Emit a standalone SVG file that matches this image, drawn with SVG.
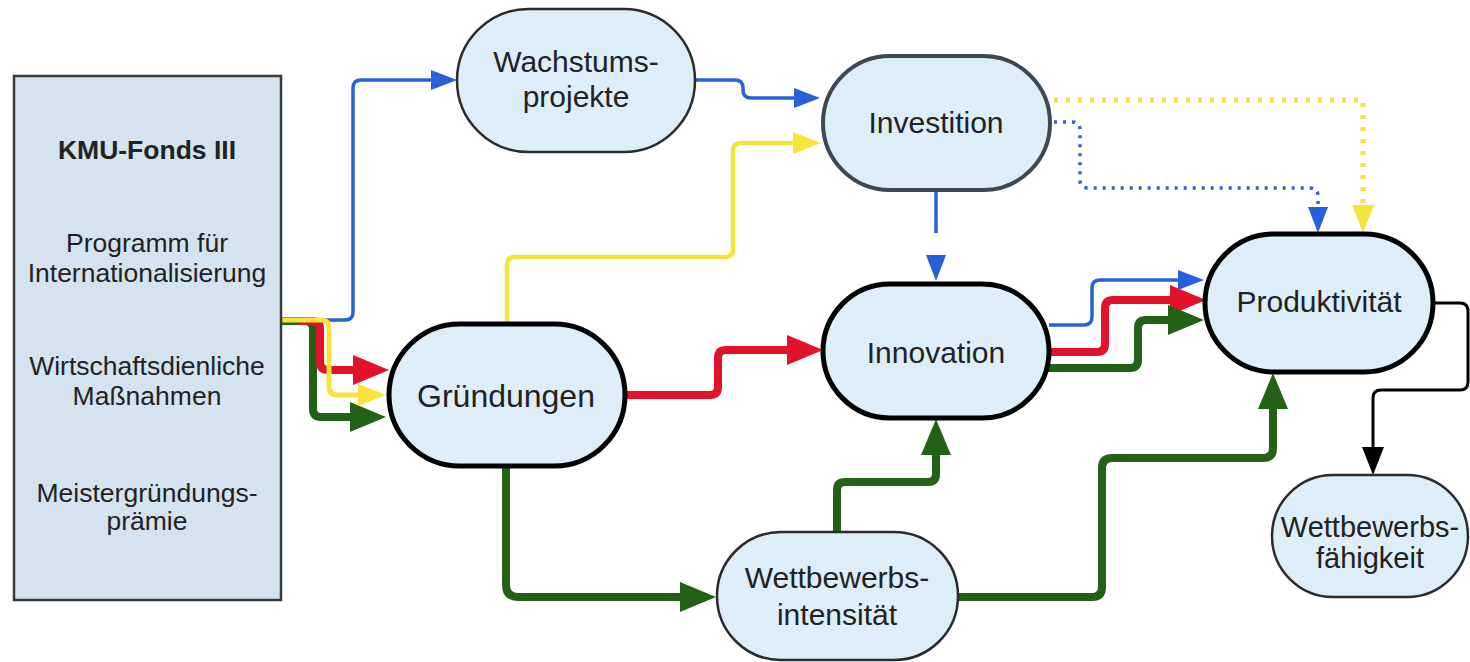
<svg xmlns="http://www.w3.org/2000/svg" width="1470" height="662" viewBox="0 0 1470 662">
<defs>
<style>
.t{font-family:"Liberation Sans",Arial,sans-serif;fill:#222;text-anchor:middle}
.node{fill:#ddeef9}
.thin{stroke:#2b2b2b;stroke-width:2.5}
.thick{stroke:#000;stroke-width:5}
.c{fill:none;stroke-linejoin:round}
.blue{stroke:#2760d8;stroke-width:3.5}
.red{stroke:#e3122a;stroke-width:8}
.green{stroke:#236117;stroke-width:8}
.yellow{stroke:#f7e43a;stroke-width:5}
.black{stroke:#000;stroke-width:3}
</style>
<marker id="aB" markerUnits="userSpaceOnUse" markerWidth="26" markerHeight="20" refX="0" refY="10" orient="auto"><path d="M0,0 L26,10 L0,20 z" fill="#2760d8"/></marker>
<marker id="aR" markerUnits="userSpaceOnUse" markerWidth="36" markerHeight="30" refX="0" refY="15" orient="auto"><path d="M0,0 L36,15 L0,30 z" fill="#e3122a"/></marker>
<marker id="aG" markerUnits="userSpaceOnUse" markerWidth="36" markerHeight="30" refX="0" refY="15" orient="auto"><path d="M0,0 L36,15 L0,30 z" fill="#236117"/></marker>
<marker id="aY" markerUnits="userSpaceOnUse" markerWidth="28" markerHeight="22" refX="0" refY="11" orient="auto"><path d="M0,0 L28,11 L0,22 z" fill="#f7e43a"/></marker>
<marker id="aK" markerUnits="userSpaceOnUse" markerWidth="28" markerHeight="22" refX="0" refY="11" orient="auto"><path d="M0,0 L28,11 L0,22 z" fill="#000"/></marker>
</defs>
<rect width="1470" height="662" fill="#fff"/>

<g id="connectors">
<path class="c blue" d="M281,320 H345 Q353,320 353,312 V88 Q353,80 361,80 H431" marker-end="url(#aB)"/>
<path class="c green" d="M281,321 H305 Q313,321 313,329 V409 Q313,417 321,417 H350" marker-end="url(#aG)"/>
<path class="c red" d="M300,321 H312 Q320,321 320,329 V362 Q320,370 328,370 H353" marker-end="url(#aR)"/>
<path class="c yellow" d="M281,320 H321 Q329,320 329,328 V387 Q329,395 337,395 H358" marker-end="url(#aY)"/>
<path class="c blue" d="M695,80 H735 Q743,80 743,88 V90 Q743,98 751,98 H794" marker-end="url(#aB)"/>
<path class="c yellow" style="stroke-width:4.5" d="M507,323 V265 Q507,257 515,257 H725 Q733,257 733,249 V151 Q733,143 741,143 H793" marker-end="url(#aY)"/>
<path class="c blue" stroke-dasharray="42 30" d="M936,191 V255" marker-end="url(#aB)"/>
<path class="c yellow" stroke-dasharray="4 8" d="M1054,100 H1363 V205" marker-end="url(#aY)"/>
<path class="c blue" stroke-dasharray="3 6" style="stroke:#3a5fc8;stroke-width:3.5" d="M1054,122 H1072 Q1080,122 1080,130 V180 Q1080,188 1088,188 H1310 Q1318,188 1318,196 V207" marker-end="url(#aB)"/>
<path class="c red" d="M625,395 H710 Q718,395 718,387 V358 Q718,350 726,350 H787" marker-end="url(#aR)"/>
<path class="c blue" d="M1049,325 H1084 Q1092,325 1092,317 V288 Q1092,280 1100,280 H1178" marker-end="url(#aB)"/>
<path class="c red" d="M1047,352 H1097 Q1105,352 1105,344 V308 Q1105,300 1113,300 H1170" marker-end="url(#aR)"/>
<path class="c green" d="M1046,368 H1130 Q1138,368 1138,360 V328 Q1138,320 1146,320 H1168" marker-end="url(#aG)"/>
<path class="c green" d="M506,466 V585 Q506,597 518,597 H680" marker-end="url(#aG)"/>
<path class="c green" d="M837,532 V490 Q837,482 845,482 H928 Q936,482 936,474 V455" marker-end="url(#aG)"/>
<path class="c green" d="M958,597 H1092 Q1102,597 1102,587 V468 Q1102,458 1112,458 H1263 Q1273,458 1273,448 V409" marker-end="url(#aG)"/>
<path class="c black" d="M1433,303 H1460 Q1468,303 1468,311 V382 Q1468,390 1460,390 H1381 Q1373,390 1373,398 V447" marker-end="url(#aK)"/>
</g>

<g id="kmu">
<rect x="14" y="76" width="267" height="524" fill="#d4e3ee" stroke="#3a3a3a" stroke-width="2.5"/>
<text class="t" x="147" y="159" font-size="26.5" font-weight="bold">KMU-Fonds III</text>
<text class="t" x="147" y="252" font-size="26.5">Programm für</text>
<text class="t" x="147" y="282" font-size="26.5">Internationalisierung</text>
<text class="t" x="147" y="375" font-size="26.5">Wirtschaftsdienliche</text>
<text class="t" x="147" y="405" font-size="26.5">Maßnahmen</text>
<text class="t" x="147" y="502" font-size="26.5">Meistergründungs-</text>
<text class="t" x="147" y="530" font-size="26.5">prämie</text>
</g>

<g id="wachstum">
<rect class="node thin" x="457" y="9" width="238" height="143" rx="71.5"/>
<text class="t" x="576" y="72" font-size="30">Wachstums-</text>
<text class="t" x="576" y="107" font-size="30">projekte</text>
</g>

<g id="investition">
<rect class="node" stroke="#3d4852" stroke-width="4" x="823" y="56" width="227" height="134" rx="67"/>
<text class="t" x="936" y="133" font-size="30">Investition</text>
</g>

<g id="innovation">
<rect class="node thick" x="823" y="284" width="226" height="134" rx="67"/>
<text class="t" x="936" y="363" font-size="30">Innovation</text>
</g>

<g id="gruendungen">
<rect class="node thick" x="389" y="324" width="236" height="142" rx="71"/>
<text class="t" x="506" y="407" font-size="32">Gründungen</text>
</g>

<g id="produktivitaet">
<rect class="node thick" x="1205" y="234" width="228" height="138" rx="69"/>
<text class="t" x="1319" y="312" font-size="30">Produktivität</text>
</g>

<g id="intensitaet">
<rect class="node thin" x="717" y="532" width="241" height="128" rx="64"/>
<text class="t" x="837" y="588" font-size="30">Wettbewerbs-</text>
<text class="t" x="837" y="625" font-size="30">intensität</text>
</g>

<g id="faehigkeit">
<rect class="node thin" x="1272" y="475" width="196" height="122" rx="61"/>
<text class="t" x="1370" y="537" font-size="29">Wettbewerbs-</text>
<text class="t" x="1370" y="568" font-size="29">fähigkeit</text>
</g>
</svg>
